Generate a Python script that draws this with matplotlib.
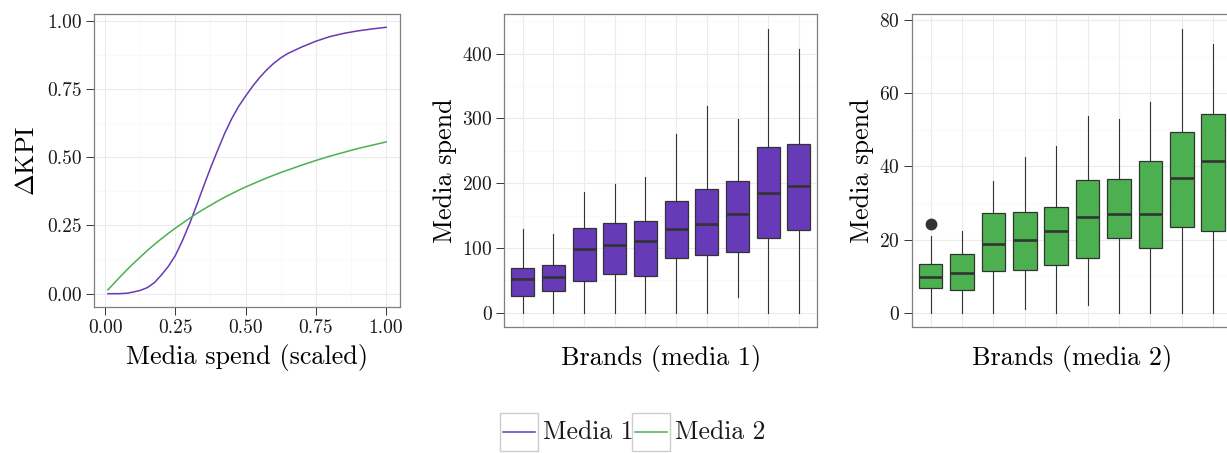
import matplotlib
matplotlib.use("Agg")
import matplotlib.pyplot as plt
from matplotlib.lines import Line2D
from matplotlib.patches import Rectangle

plt.rcParams['font.family'] = 'cmr10'
plt.rcParams['mathtext.fontset'] = 'cm'
plt.rcParams['axes.formatter.use_mathtext'] = True

PURPLE = '#673AB7'
GREEN = '#4CAF50'
DARK = '#333333'
GRID_MAJOR = '#ebebeb'
GRID_MINOR = '#f7f7f7'
BORDER = '#7f7f7f'

# response curves (scaled spend -> change in KPI)
spend_scaled = [0.01, 0.05, 0.08, 0.10, 0.125, 0.15, 0.175, 0.20, 0.225, 0.25,
                0.275, 0.30, 0.325, 0.35, 0.375, 0.40, 0.425, 0.45, 0.475, 0.50,
                0.525, 0.55, 0.575, 0.60, 0.625, 0.65, 0.70, 0.75, 0.80, 0.85,
                0.90, 0.95, 1.00]
kpi_media1 = [0.000, 0.000, 0.002, 0.006, 0.012, 0.022, 0.040, 0.068, 0.100, 0.140,
              0.194, 0.255, 0.322, 0.392, 0.460, 0.524, 0.586, 0.640, 0.686, 0.724,
              0.760, 0.792, 0.820, 0.844, 0.864, 0.880, 0.904, 0.925, 0.942, 0.954,
              0.963, 0.970, 0.976]
kpi_media2 = [0.014, 0.058, 0.090, 0.110, 0.134, 0.158, 0.180, 0.201, 0.221, 0.240,
              0.258, 0.276, 0.293, 0.309, 0.324, 0.339, 0.353, 0.366, 0.379, 0.391,
              0.402, 0.413, 0.424, 0.434, 0.444, 0.453, 0.471, 0.488, 0.504, 0.518,
              0.532, 0.544, 0.556]

# spend distribution per brand, media 1
m1_low = [0, 0, 0, 0, 0, 0, 0, 24.7, 0, 0]
m1_q1 = [25.2, 33.4, 49.4, 59.6, 56.6, 85.3, 89.5, 94.1, 115.7, 127.5]
m1_med = [51.4, 55.0, 98.7, 104.4, 111.0, 130.0, 137.3, 152.2, 185.0, 195.4]
m1_q3 = [68.4, 73.5, 130.6, 138.8, 141.4, 172.8, 191.3, 202.6, 255.5, 260.7]
m1_high = [130.0, 121.0, 186.6, 198.5, 209.3, 276.6, 319.3, 299.2, 438.6, 407.7]
m1_out = [[], [], [], [], [], [], [], [], [], []]

# spend distribution per brand, media 2
m2_low = [0, 0, 0, 1.1, 0, 2.1, 0, 0, 0, 0]
m2_q1 = [6.8, 6.3, 11.4, 11.7, 13.0, 15.1, 20.4, 17.8, 23.5, 22.3]
m2_med = [9.85, 10.95, 18.7, 19.8, 22.4, 26.2, 26.9, 27.1, 36.8, 41.5]
m2_q3 = [13.2, 16.0, 27.2, 27.5, 28.8, 36.2, 36.6, 41.4, 49.3, 54.2]
m2_high = [20.9, 22.4, 36.1, 42.5, 45.5, 53.8, 53.0, 57.7, 77.7, 73.5]
m2_out = [[24.3], [], [], [], [], [], [], [], [], []]

W, H = 1227, 453
fig = plt.figure(figsize=(W / 100, H / 100), dpi=100)


def px_axes(left, top, width, height):
    return fig.add_axes([left / W, 1 - (top + height) / H, width / W, height / H])


def style(ax):
    ax.set_facecolor('white')
    for s in ax.spines.values():
        s.set_color(BORDER)
        s.set_linewidth(0.9)
    ax.tick_params(axis='both', which='major', colors=DARK, length=5.5, width=0.7,
                   labelsize=14, labelcolor='#1a1a1a', pad=3)
    ax.tick_params(axis='both', which='minor', length=0)
    ax.grid(True, which='major', color=GRID_MAJOR, linewidth=0.8, zorder=0)
    ax.grid(True, which='minor', color=GRID_MINOR, linewidth=0.5, zorder=0)
    ax.set_axisbelow(True)


def padded(lo, hi, frac=0.05):
    r = hi - lo
    return lo - frac * r, hi + frac * r


# --- response curves ---
ax1 = px_axes(94, 14, 306, 293)
style(ax1)
ax1.plot(spend_scaled, kpi_media1, color=PURPLE, linewidth=1.1)
ax1.plot(spend_scaled, kpi_media2, color=GREEN, linewidth=1.1)
ax1.set_xlim(*padded(min(spend_scaled), max(spend_scaled)))
ax1.set_ylim(*padded(min(kpi_media1 + kpi_media2), max(kpi_media1 + kpi_media2)))
ticks = [0, 0.25, 0.5, 0.75, 1.0]
ax1.set_xticks(ticks)
ax1.set_yticks(ticks)
ax1.set_xticklabels(['%.2f' % t for t in ticks])
ax1.set_yticklabels(['%.2f' % t for t in ticks])
ax1.set_xticks([0.125, 0.375, 0.625, 0.875], minor=True)
ax1.set_yticks([0.125, 0.375, 0.625, 0.875], minor=True)
ax1.set_xlabel('Media spend (scaled)', fontsize=18.8, labelpad=5)
ax1.set_ylabel(r'$\Delta$KPI', fontsize=18.8, labelpad=6)


def box_panel(ax, low, q1, med, q3, high, out, color, yticks, yminor, label):
    style(ax)
    stats = []
    for i in range(len(med)):
        stats.append(dict(whislo=low[i], q1=q1[i], med=med[i], q3=q3[i],
                          whishi=high[i], fliers=out[i]))
    pos = list(range(1, len(med) + 1))
    ax.bxp(stats, positions=pos, widths=0.75, patch_artist=True, showcaps=False,
           boxprops=dict(facecolor=color, edgecolor=DARK, linewidth=0.9),
           medianprops=dict(color=DARK, linewidth=1.9, solid_capstyle='butt'),
           whiskerprops=dict(color=DARK, linewidth=0.8),
           flierprops=dict(marker='o', markersize=7.5, markerfacecolor=DARK,
                           markeredgecolor=DARK),
           zorder=3)
    allv = low + high + [v for o in out for v in o]
    ax.set_ylim(*padded(min(allv), max(allv)))
    ax.set_xlim(0.4, len(med) + 0.6)
    ax.set_xticks(pos)
    ax.tick_params(axis='x', which='major', length=0, labelbottom=False)
    ax.set_yticks(yticks)
    ax.set_yticks(yminor, minor=True)
    ax.set_xlabel(label, fontsize=18.8, labelpad=13)
    ax.set_ylabel('Media spend', fontsize=18.8, labelpad=4)


ax2 = px_axes(504.3, 14.3, 313, 312.7)
box_panel(ax2, m1_low, m1_q1, m1_med, m1_q3, m1_high, m1_out, PURPLE,
          [0, 100, 200, 300, 400], [50, 150, 250, 350, 450], 'Brands (media 1)')

ax3 = px_axes(911.7, 14.3, 320.3, 312.7)
box_panel(ax3, m2_low, m2_q1, m2_med, m2_q3, m2_high, m2_out, GREEN,
          [0, 20, 40, 60, 80], [10, 30, 50, 70], 'Brands (media 2)')

# --- legend below the panels ---
legend_items = [('Media 1', PURPLE, 500), ('Media 2', GREEN, 632)]
for name, col, x0 in legend_items:
    fig.add_artist(Rectangle((x0 / W, 1 - 451 / H), 38 / W, 38 / H,
                             transform=fig.transFigure, facecolor='white',
                             edgecolor='#cccccc', linewidth=1.0))
    fig.add_artist(Line2D([(x0 + 3) / W, (x0 + 35) / W], [1 - 432 / H, 1 - 432 / H],
                          transform=fig.transFigure, color=col, linewidth=1.1))
    fig.text((x0 + 43) / W, 1 - 432 / H, name, fontsize=18.5, va='center',
             ha='left', color='#1a1a1a')

fig.savefig('out.png', dpi=100, facecolor='white')
